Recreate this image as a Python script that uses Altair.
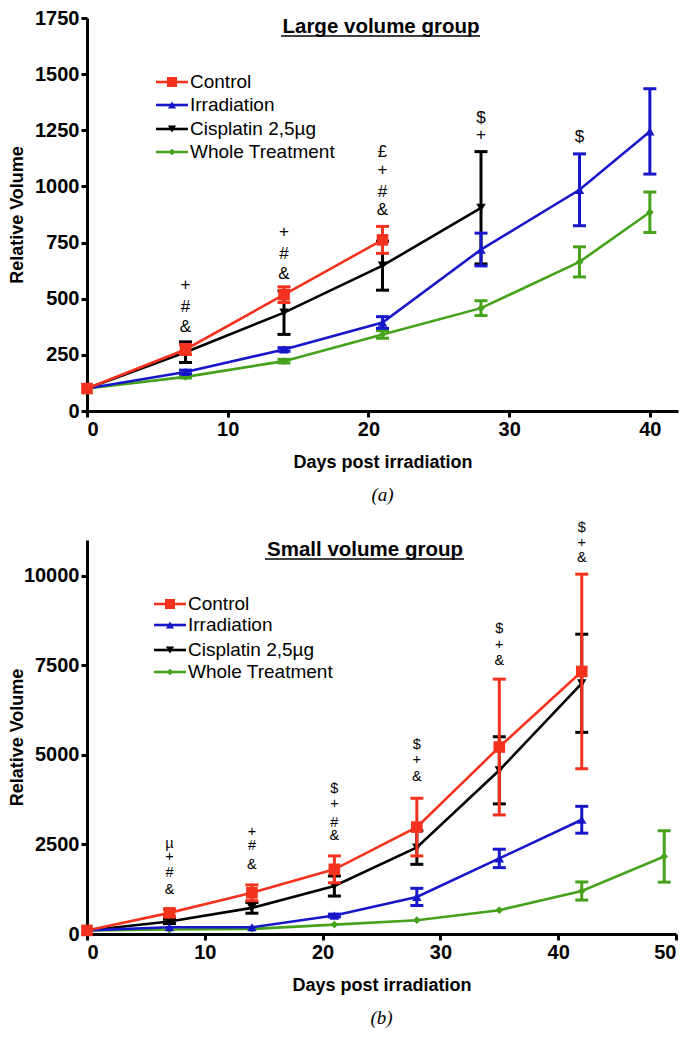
import altair as alt
import pandas as pd

SERIES = ["Control", "Irradiation", "Cisplatin 2,5µg", "Whole Treatment"]
COLORS = ["#F5321E", "#1717C9", "#000000", "#46A11B"]
SHAPES = ["square", "triangle-up", "triangle-down", "diamond"]
SIZES = [135, 90, 90, 60]

# ---------- Panel (a): Large volume group ----------
A_DAYS_CONTROL = [0, 7, 14, 21]
A_CONTROL = [100, 274, 518, 762]
A_CONTROL_ERR = [0, 22, 35, 60]
A_DAYS_IRR = [0, 7, 14, 21, 28, 35, 40]
A_IRR = [100, 174, 274, 394, 719, 985, 1245]
A_IRR_ERR = [0, 8, 8, 26, 73, 160, 190]
A_DAYS_CIS = [0, 7, 14, 21, 28]
A_CIS = [100, 262, 438, 647, 905]
A_CIS_ERR = [0, 46, 97, 109, 250]
A_DAYS_WT = [0, 7, 14, 21, 28, 35, 40]
A_WT = [100, 152, 222, 341, 458, 664, 885]
A_WT_ERR = [0, 5, 8, 17, 33, 67, 90]

A_ANN_DAY = [7, 7, 7, 14, 14, 14, 21, 21, 21, 21, 28, 28, 35]
A_ANN_TEXT = ["+", "#", "&", "+", "#", "&", "£", "+", "#", "&", "$", "+", "$"]
A_ANN_Y = [561, 463, 374, 798, 700, 610, 1154, 1074, 976, 896, 1305, 1228, 1221]

A_X_TICKS = [0, 10, 20, 30, 40]
A_Y_TICKS = [0, 250, 500, 750, 1000, 1250, 1500, 1750]

# ---------- Panel (b): Small volume group ----------
B_DAYS_CONTROL = [0, 7, 14, 21, 28, 35, 42]
B_CONTROL = [100, 590, 1150, 1805, 2985, 5220, 7330]
B_CONTROL_ERR = [0, 100, 220, 375, 805, 1896, 2716]
B_DAYS_IRR = [0, 7, 14, 21, 28, 35, 42]
B_IRR = [100, 188, 188, 515, 1035, 2110, 3190]
B_IRR_ERR = [0, 0, 0, 40, 240, 257, 375]
B_DAYS_CIS = [0, 7, 14, 21, 28, 35, 42]
B_CIS = [100, 350, 730, 1340, 2415, 4570, 7000]
B_CIS_ERR = [0, 60, 150, 280, 470, 937, 1370]
B_DAYS_WT = [0, 7, 14, 21, 28, 35, 42, 49]
B_WT = [100, 125, 140, 262, 385, 665, 1200, 2165]
B_WT_ERR = [0, 0, 0, 0, 0, 0, 253, 717]

B_ANN_DAY = [7, 7, 7, 7, 14, 14, 14, 21, 21, 21, 21, 28, 28, 28, 35, 35, 35, 42, 42, 42]
B_ANN_TEXT = ["µ", "+", "#", "&", "+", "#", "&", "$", "+", "#", "&", "$", "+", "&",
              "$", "+", "&", "$", "+", "&"]
B_ANN_Y = [2520, 2140, 1715, 1235, 2857, 2463, 1919, 4060, 3640, 3095, 2725,
           5272, 4851, 4382, 8503, 8062, 7612, 11348, 10927, 10506]

B_X_TICKS = [0, 10, 20, 30, 40, 50]
B_Y_TICKS = [0, 2500, 5000, 7500, 10000]

FONT = "Liberation Sans"


def series_frame(days, mean, err):
    df = pd.DataFrame({"day": days, "mean": mean, "err": err})
    df["lo"] = df["mean"] - df["err"]
    df["hi"] = df["mean"] + df["err"]
    return df


def panel(data, ann, xdom, xticks, ydom, yticks, title_text, title_xy, underline,
          legend_xy, legend_dy, caption, width, height, ann_size, ytitle_pad):
    xs = alt.Scale(domain=xdom, nice=False, zero=True)
    ys = alt.Scale(domain=ydom, nice=False, zero=True)
    xax = alt.Axis(values=xticks, format="d", title="Days post irradiation", titlePadding=14)
    yax = alt.Axis(values=yticks, format="d", title="Relative Volume", titlePadding=ytitle_pad)

    layers = []
    # draw order bottom -> top: Whole, Cisplatin, Irradiation, Control
    for idx in [3, 2, 1, 0]:
        df = data[idx]
        col = COLORS[idx]
        base = alt.Chart(df)
        errdf = df[df["err"] > 0]
        if len(errdf):
            eb = alt.Chart(errdf)
            layers.append(eb.mark_rule(color=col, strokeWidth=3).encode(
                x=alt.X("day:Q", scale=xs, axis=xax),
                y=alt.Y("lo:Q", scale=ys, axis=yax),
                y2="hi:Q"))
            for fld in ["lo", "hi"]:
                layers.append(eb.mark_tick(color=col, orient="horizontal", size=13,
                                           thickness=3, opacity=1).encode(
                    x=alt.X("day:Q", scale=xs, axis=xax),
                    y=alt.Y(f"{fld}:Q", scale=ys, axis=yax)))
        layers.append(base.mark_line(color=col, strokeWidth=2.6).encode(
            x=alt.X("day:Q", scale=xs, axis=xax),
            y=alt.Y("mean:Q", scale=ys, axis=yax)))
        layers.append(base.mark_point(color=col, filled=True, opacity=1,
                                      shape=SHAPES[idx], size=SIZES[idx]).encode(
            x=alt.X("day:Q", scale=xs, axis=xax),
            y=alt.Y("mean:Q", scale=ys, axis=yax)))

    # significance annotations
    layers.append(alt.Chart(ann).mark_text(font=FONT, fontSize=ann_size, color="black",
                                           baseline="middle", align="center").encode(
        x=alt.X("day:Q", scale=xs, axis=xax),
        y=alt.Y("y:Q", scale=ys, axis=yax),
        text="t:N"))

    # panel title with underline
    one = pd.DataFrame({"k": [0]})
    layers.append(alt.Chart(one).mark_text(text=title_text, font=FONT, fontSize=20.5,
                                           fontWeight="bold", align="center",
                                           baseline="middle", color="black").encode(
        x=alt.value(title_xy[0]), y=alt.value(title_xy[1])))
    layers.append(alt.Chart(one).mark_rule(color="black", strokeWidth=1.6).encode(
        x=alt.value(underline[0]), x2=alt.value(underline[1]), y=alt.value(underline[2])))

    # manual legend
    lx, ly = legend_xy
    for i, name in enumerate(SERIES):
        yy = ly + legend_dy[i]
        d1 = pd.DataFrame({"label": [name]})
        layers.append(alt.Chart(d1).mark_rule(color=COLORS[i], strokeWidth=2.6).encode(
            x=alt.value(lx), x2=alt.value(lx + 32), y=alt.value(yy)))
        layers.append(alt.Chart(d1).mark_point(color=COLORS[i], filled=True, opacity=1,
                                               shape=SHAPES[i], size=SIZES[i] * 0.75).encode(
            x=alt.value(lx + 16), y=alt.value(yy)))
        layers.append(alt.Chart(d1).mark_text(font=FONT, fontSize=19, align="left",
                                              baseline="middle", color="black").encode(
            x=alt.value(lx + 34), y=alt.value(yy), text="label:N"))

    return alt.layer(*layers).properties(
        width=width, height=height,
        title=alt.TitleParams(caption, orient="bottom", font="Liberation Serif",
                              fontStyle="italic", fontWeight="normal", fontSize=19,
                              color="black", offset=15, anchor="middle"))


a_data = [series_frame(A_DAYS_CONTROL, A_CONTROL, A_CONTROL_ERR),
          series_frame(A_DAYS_IRR, A_IRR, A_IRR_ERR),
          series_frame(A_DAYS_CIS, A_CIS, A_CIS_ERR),
          series_frame(A_DAYS_WT, A_WT, A_WT_ERR)]
b_data = [series_frame(B_DAYS_CONTROL, B_CONTROL, B_CONTROL_ERR),
          series_frame(B_DAYS_IRR, B_IRR, B_IRR_ERR),
          series_frame(B_DAYS_CIS, B_CIS, B_CIS_ERR),
          series_frame(B_DAYS_WT, B_WT, B_WT_ERR)]
a_ann = pd.DataFrame({"day": A_ANN_DAY, "t": A_ANN_TEXT, "y": A_ANN_Y})
b_ann = pd.DataFrame({"day": B_ANN_DAY, "t": B_ANN_TEXT, "y": B_ANN_Y})

top = panel(a_data, a_ann, [0, 42], A_X_TICKS, [0, 1750], A_Y_TICKS,
            "Large volume group", (294, 9), (194, 393, 18),
            (69, 64), [0, 23, 47, 70], "(a)", 591, 393, 17, 8)
bottom = panel(b_data, b_ann, [0, 50], B_X_TICKS, [0, 11000], B_Y_TICKS,
               "Small volume group", (278, 10), (178, 377, 19),
               (67, 64), [0, 21, 46, 68], "(b)", 589, 394, 14.5, -3)

chart = alt.vconcat(top, bottom, spacing=129, bounds="flush").properties(
    padding={"left": 0, "top": 0, "right": 5, "bottom": 5}
).configure_view(stroke=None).configure_axis(
    domainColor="black", domainWidth=3, tickColor="black", tickWidth=3, tickSize=6,
    labelFont=FONT, labelFontWeight="bold", labelFontSize=20, labelColor="black",
    labelPadding=2, titleFont=FONT, titleFontWeight="bold", titleFontSize=18,
    titleColor="black", grid=False, labelOverlap=False
)

chart.save("out.html", embed_options={"renderer": "svg", "actions": False})
